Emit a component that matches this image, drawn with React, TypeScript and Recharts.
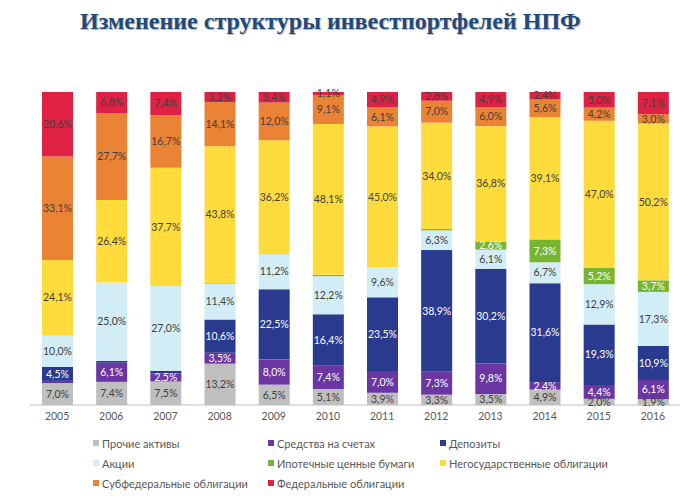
import { BarChart, Bar, XAxis, YAxis, LabelList } from "recharts";

const years = ["2005", "2006", "2007", "2008", "2009", "2010", "2011", "2012", "2013", "2014", "2015", "2016"];

// shares in % by year, bottom of stack first
const otherAssets = [7.0, 7.4, 7.5, 13.2, 6.5, 5.1, 3.9, 3.3, 3.5, 4.9, 2.0, 1.9];
const accounts = [0.7, 6.1, 2.5, 3.5, 8.0, 7.4, 7.0, 7.3, 9.8, 2.4, 4.4, 6.1];
const deposits = [4.5, 0.6, 0.9, 10.6, 22.5, 16.4, 23.5, 38.9, 30.2, 31.6, 19.3, 10.9];
const shares = [10.0, 25.0, 27.0, 11.4, 11.2, 12.2, 9.6, 6.3, 6.1, 6.7, 12.9, 17.3];
const mortgage = [0, 0, 0, 0.2, 0.2, 0.4, 0, 0.4, 2.6, 7.3, 5.2, 3.7];
const corporate = [24.1, 26.4, 37.7, 43.8, 36.2, 48.1, 45.0, 34.0, 36.8, 39.1, 47.0, 50.2];
const subfederal = [33.1, 27.7, 16.7, 14.1, 12.0, 9.1, 6.1, 7.0, 6.0, 5.6, 4.2, 3.0];
const federal = [20.6, 6.8, 7.4, 3.2, 3.4, 1.1, 4.9, 2.8, 4.9, 2.4, 5.0, 7.1];

const series = [
  { key: "other", name: "Прочие активы", color: "#BFBFBF", text: "#404040", values: otherAssets },
  { key: "accounts", name: "Средства на счетах", color: "#6B35A2", text: "#ffffff", values: accounts },
  { key: "deposits", name: "Депозиты", color: "#293A8F", text: "#ffffff", values: deposits },
  { key: "shares", name: "Акции", color: "#D2EDF6", text: "#404040", values: shares },
  { key: "mortgage", name: "Ипотечные ценные бумаги", color: "#78B52E", text: "#ffffff", values: mortgage },
  { key: "corporate", name: "Негосударственные облигации", color: "#FFDC3C", text: "#404040", values: corporate },
  { key: "subfederal", name: "Субфедеральные облигации", color: "#EA8434", text: "#404040", values: subfederal },
  { key: "federal", name: "Федеральные облигации", color: "#DF2143", text: "#404040", values: federal },
];

const data = years.map((year, i) => {
  const row: Record<string, string | number> = { year };
  series.forEach((s) => {
    row[s.key] = s.values[i];
  });
  return row;
});

const FONT = "Lato, 'Open Sans', sans-serif";

function makeLabel(color: string) {
  return (props: any) => {
    const vb = props.viewBox || props;
    const { x, y, width, height } = vb;
    const v = Number(props.value);
    if (!Number.isFinite(v) || v < 1) return null;
    return (
      <text
        x={x + width / 2}
        y={y + height / 2}
        dy="0.35em"
        textAnchor="middle"
        fill={color}
        fontSize={10.5}
        fontFamily={FONT}
      >
        {v.toFixed(1).replace(".", ",")}%
      </text>
    );
  };
}

export default function App() {
  return (
    <div
      style={{
        position: "absolute",
        left: 0,
        top: 0,
        width: 692,
        height: 500,
        background: "#fff",
        overflow: "hidden",
      }}
    >
      <div
        style={{
          position: "absolute",
          left: 80,
          top: 8,
          fontFamily: "'Liberation Serif', serif",
          fontWeight: "bold",
          fontSize: 24,
          color: "#1F4A7C",
          textShadow: "1px 1px 1px rgba(0,0,0,0.3)",
          whiteSpace: "nowrap",
        }}
      >
        Изменение структуры инвестпортфелей НПФ
      </div>
      <BarChart
        width={692}
        height={500}
        data={data}
        stackOffset="expand"
        barSize={31}
        margin={{ top: 92, right: 12, bottom: 65, left: 30 }}
      >
        <XAxis
          dataKey="year"
          interval={0}
          tickLine={false}
          axisLine={{ stroke: "#BFBFBF" }}
          tick={{ fill: "#595959", fontSize: 10.5, fontFamily: FONT }}
        />
        <YAxis hide domain={[0, 1]} />
        {series.map((s) => (
          <Bar key={s.key} dataKey={s.key} name={s.name} stackId="a" fill={s.color} isAnimationActive={false}>
            <LabelList dataKey={s.key} content={makeLabel(s.text)} />
          </Bar>
        ))}
      </BarChart>
      <div
        style={{
          position: "absolute",
          left: 93,
          top: 435,
          display: "grid",
          gridTemplateColumns: "175px 172px 200px",
          rowGap: 4,
          fontFamily: FONT,
          fontSize: 11,
          color: "#595959",
        }}
      >
        {series.map((s) => (
          <div key={s.key} style={{ display: "flex", alignItems: "center", height: 16, whiteSpace: "nowrap" }}>
            <span style={{ width: 6, height: 6, background: s.color, marginRight: 3, display: "inline-block" }} />
            {s.name}
          </div>
        ))}
      </div>
    </div>
  );
}
